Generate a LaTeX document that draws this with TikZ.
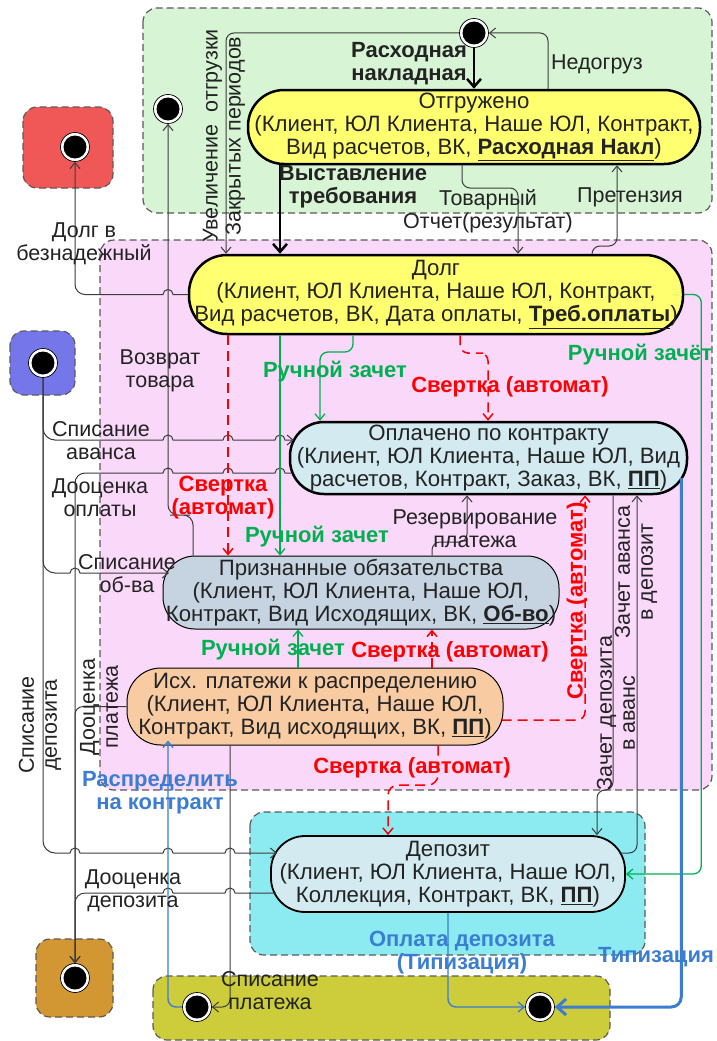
\documentclass[tikz,border=0pt]{standalone}
\usepackage{fontspec}
\setmainfont{Liberation Sans}
\usetikzlibrary{arrows.meta,calc}
\definecolor{kgreen}{RGB}{215,245,212}
\definecolor{kpink}{RGB}{250,216,250}
\definecolor{kred}{RGB}{240,88,88}
\definecolor{kblue}{RGB}{118,118,235}
\definecolor{kcyan}{RGB}{140,235,240}
\definecolor{kbrown}{RGB}{210,150,50}
\definecolor{kolive}{RGB}{205,205,60}
\definecolor{kyel}{RGB}{255,255,112}
\definecolor{klb}{RGB}{210,234,240}
\definecolor{kgb}{RGB}{198,212,226}
\definecolor{kpeach}{RGB}{248,203,163}
\definecolor{kgline}{RGB}{0,176,80}
\definecolor{krline}{RGB}{255,0,0}
\definecolor{kbline}{RGB}{58,125,210}
\definecolor{ktxt}{RGB}{35,35,35}
\definecolor{kregb}{RGB}{90,90,90}
\definecolor{kline}{RGB}{60,60,60}
\begin{document}
\begin{tikzpicture}[x=1pt,y=-1pt,
  every node/.style={font=\fontsize{21.5}{23}\selectfont, text=ktxt},
  region/.style={draw=kregb, dash pattern=on 7pt off 4pt, line width=1.2pt, rounded corners=14pt},
  st/.style={draw=black, line width=1pt, align=center, inner sep=0pt, font=\fontsize{22.2}{23}\selectfont},
  fin/.style={circle, draw=black, line width=0.7pt, fill=white, minimum size=29pt, inner sep=0pt,
     path picture={\fill[black] (path picture bounding box.center) circle (11.5pt);}},
  lb/.style={align=center, inner sep=0pt},
  lbold/.style={lb, font=\fontsize{22}{23}\selectfont\bfseries},
  lr/.style={lbold, text=krline},
  lg/.style={lbold, text=kgline},
  lB/.style={lbold, text=kbline},
  conn/.style={draw=kline, line width=1pt, -{Straight Barb[length=6pt,width=10pt]}, rounded corners=8pt},
  hconn/.style={conn, sharp corners},
  thick conn/.style={draw=black, line width=2.5pt, -{Straight Barb[length=8pt,width=14pt]}},
  gconn/.style={conn, draw=kgline, line width=1.3pt},
  rconn/.style={conn, draw=krline, line width=1.5pt, dash pattern=on 10pt off 6pt},
  bconn/.style={conn, draw=kbline, line width=1.4pt},
]
\useasboundingbox (0,0) rectangle (716,1041);
% regions
\draw[region, fill=kgreen] (143,8) rectangle (712,213);
\draw[region, fill=kpink] (100,240) rectangle (712,790);
\draw[region, fill=kred] (23,107) rectangle (113,188);
\draw[region, fill=kblue] (10,331) rectangle (75,395);
\draw[region, fill=kcyan] (250,812) rectangle (645,955);
\draw[region, fill=kbrown] (36,939) rectangle (113,1017);
\draw[region, fill=kolive] (153,976) rectangle (610,1040);

% states
\node[st, fill=kyel, line width=2.5pt, minimum width=452pt, minimum height=74pt, rounded corners=36pt] (otg) at (474,127)
  {Отгружено\\(Клиент, ЮЛ Клиента, Наше ЮЛ, Контракт,\\Вид расчетов, ВК, \underline{\textbf{Расходная Накл}})};
\node[st, fill=kyel, line width=2.5pt, minimum width=494pt, minimum height=79pt, rounded corners=38pt] (dolg) at (436,294.5)
  {Долг\\(Клиент, ЮЛ Клиента, Наше ЮЛ, Контракт,\\Вид расчетов, ВК, Дата оплаты, \underline{\textbf{Треб.оплаты}})};
\node[st, fill=klb, line width=2.5pt, minimum width=397pt, minimum height=72pt, rounded corners=34pt] (opl) at (488.5,458)
  {Оплачено по контракту\\(Клиент, ЮЛ Клиента, Наше ЮЛ, Вид\\расчетов, Контракт, Заказ, ВК, \underline{\textbf{ПП}})};
\node[st, fill=kgb, minimum width=396pt, minimum height=73pt, rounded corners=32pt] (priz) at (361,592.5)
  {Признанные обязательства\\(Клиент, ЮЛ Клиента, Наше ЮЛ,\\Контракт, Вид Исходящих, ВК, \underline{\textbf{Об-во}})};
\node[st, fill=kpeach, minimum width=376pt, minimum height=77pt, rounded corners=34pt] (ish) at (315,706.5)
  {Исх. платежи к распределению\\(Клиент, ЮЛ Клиента, Наше ЮЛ,\\Контракт, Вид исходящих, ВК, \underline{\textbf{ПП}})};
\node[st, fill=klb, line width=1.8pt, minimum width=354pt, minimum height=76pt, rounded corners=34pt] (dep) at (448,874)
  {Депозит\\(Клиент, ЮЛ Клиента, Наше ЮЛ,\\Коллекция, Контракт, ВК, \underline{\textbf{ПП}})};

% pseudo states
\node[fin] (ctop) at (474,33) {};
\node[fin] (cleft) at (168,109) {};
\node[fin] (cred) at (75,147) {};
\node[fin] (cblue) at (43,363) {};
\node[fin] (cbrown) at (75,978) {};
\node[fin] (colL) at (197,1007) {};
\node[fin] (colR) at (540,1007) {};

% black connectors
\draw[thick conn] (ctop) -- (otg);
\draw[conn] (otg.north -| 548,0) |- (ctop.east);
\draw[conn] (ctop.west) -| (dolg.north -| 226,0);
\draw[thick conn] (otg.south -| 280,0) -- (dolg.north -| 280,0);
\draw[conn] (otg.south -| 462,0) -- (462,188) -| (dolg.north -| 518,0);
\draw[conn] (dolg.north -| 592,0) -- (592,246) -| (otg.south -| 617,0);
% Долг в безнадежный
\draw[hconn] (dolg.west) -- (173,294.5) arc[start angle=0,end angle=180,radius=5pt]
  -- (85,294.5) arc[start angle=270,end angle=180,radius=10pt] -- (cred.south);
% Возврат товара
\draw[conn, rounded corners=10pt] (priz.north -| 193,0) |- (180,515) -| (cleft.south);
% Списание аванса
\draw[hconn] (cblue.south) -- (43,428) arc[start angle=180,end angle=270,radius=12pt]
  -- (163,440) arc[start angle=180,end angle=0,radius=5pt]
  -- (223,440) arc[start angle=180,end angle=0,radius=5pt]
  -- (275,440) arc[start angle=180,end angle=0,radius=5pt]
  -- ($(opl.west |- 0,440)+(5,0)$);
% Списание об-ва
\draw[hconn] (cblue.south) -- (43,561) arc[start angle=180,end angle=270,radius=12pt]
  -- (70,573) arc[start angle=180,end angle=0,radius=5pt]
  -- ($(priz.west |- 0,573)+(6.5,0)$);
% Списание депозита
\draw[hconn] (cblue.south) -- (43,841) arc[start angle=180,end angle=270,radius=12pt]
  -- (70,853) arc[start angle=180,end angle=0,radius=5pt]
  -- (163,853) arc[start angle=180,end angle=0,radius=5pt]
  -- (225,853) arc[start angle=180,end angle=0,radius=5pt]
  -- ($(dep.west |- 0,853)+(7,0)$);
% Дооценка оплаты
\draw[hconn] ($(opl.west |- 0,473)+(3.5,0)$) -- (285,473) arc[start angle=0,end angle=180,radius=5pt]
  -- (233,473) arc[start angle=0,end angle=180,radius=5pt]
  -- (173,473) arc[start angle=0,end angle=180,radius=5pt]
  -- (85,473) arc[start angle=90,end angle=180,radius=10pt] -- (cbrown.north);
% Дооценка платежа
\draw[conn] (ish.west) -| (cbrown.north);
% Дооценка депозита
\draw[hconn] ($(dep.west |- 0,893)+(6,0)$) -- (235,893) arc[start angle=0,end angle=180,radius=5pt]
  -- (173,893) arc[start angle=0,end angle=180,radius=5pt]
  -- (85,893) arc[start angle=90,end angle=180,radius=10pt] -- (cbrown.north);
% Списание платежа
\draw[conn] (ish.south -| 230,0) |- (colL.east);
% Резервирование платежа
\draw[conn] (priz.north -| 432,0) -- (432,542) -| (opl.south -| 467,0);
% Зачет аванса / депозита
\draw[conn] (opl.south -| 613,0) -- (613,790) -| (dep.north -| 597,0);
\draw[conn] ($(dep.east |- 0,853)+(-7,0)$) -| (opl.south -| 637,0);

% green
\draw[gconn] (dolg.east) -- ++(17,0) |- (dep.east);
\draw[gconn] (dolg.south -| 280,0) -- (priz.north -| 280,0);
\draw[gconn] (dolg.south -| 353,0) |- (336,352) -| (opl.north -| 320,0);
\draw[gconn] (ish.north -| 298,0) -- (priz.south -| 298,0);

% red dashed
\draw[rconn] (dolg.south -| 228,0) -- (priz.north -| 228,0);
\draw[rconn] (dolg.south -| 460,0) |- (475,353) -| (opl.north -| 488,0);
\draw[rconn] (ish.north -| 432,0) -- (priz.south -| 432,0);
\draw[rconn, rounded corners=10pt] (ish.south -| 438,0) |- (410,785) -| (dep.north -| 388,0);
\draw[rconn] ($(ish.east |- 0,720)+(-2,0)$) -| (opl.south -| 585,0);

% blue
\draw[bconn] (colL.west) -| ($(ish.south -| 168,0)+(0,-5)$);
\draw[bconn] (dep.south -| 448,0) |- (colR.west);
\draw[bconn, line width=3pt, -{Straight Barb[length=9pt,width=16pt]}, rounded corners=10pt] ($(opl.east |- 0,478)+(-7,0)$) |- (colR.east);

% labels
\node[lbold] (tRN) at (409,64) {Расходная\\накладная};
\node[lb] (tNed) at (597,64) {Недогруз};
\node[lb, rotate=90] (tUv) at (224,136) {Увеличение\ \ отгрузки\\Закрытых периодов};
\node[lbold] (tVT) at (353,187) {Выставление\\требования};
\node[lb] (tTO) at (488,211) {Товарный\\Отчет(результат)};
\node[lb] (tPr) at (630,197) {Претензия};
\node[lb] (tDB) at (84,244) {Долг в\\безнадежный};
\node[lb] (tVz) at (160,371) {Возврат\\товара};
\node[lb] (tSA) at (101,441) {Списание\\аванса};
\node[lb] (tDO) at (100,498) {Дооценка\\оплаты};
\node[lb] (tSO) at (127,574) {Списание\\об-ва};
\node[lb, rotate=90] (tDP) at (99,707) {Дооценка\\платежа};
\node[lb, rotate=90] (tSD) at (40,725) {Списание\\депозита};
\node[lb] (tRez) at (475,529) {Резервирование\\платежа};
\node[lb, rotate=90] (tZA) at (636,572) {Зачет аванса\\в депозит};
\node[lb, rotate=90] (tZD) at (616,713) {Зачет депозита\\в аванс};
\node[lb] (tDD) at (133,891) {Дооценка\\депозита};
\node[lb] (tSP) at (270,991) {Списание\\платежа};
\node[lr] (r1) at (223,498) {Свертка\\(автомат)};
\node[lr] (r2) at (510,387) {Свертка (автомат)};
\node[lr] (r3) at (450,652) {Свертка (автомат)};
\node[lr] (r4) at (412,768) {Свертка (автомат)};
\node[lr, rotate=90] (r5) at (577,601) {Свертка (автомат)};
\node[lg] (g1) at (640,355) {Ручной зачёт};
\node[lg] (g2) at (335,372) {Ручной зачет};
\node[lg] (g3) at (317,537) {Ручной зачет};
\node[lg] (g4) at (273,650) {Ручной зачет};
\node[lB] (b1) at (160,793) {Распределить\\на контракт};
\node[lB] (b2) at (462,953) {Оплата депозита\\(Типизация)};
\node[lB] (b3) at (656,957) {Типизация};
\end{tikzpicture}
\end{document}
